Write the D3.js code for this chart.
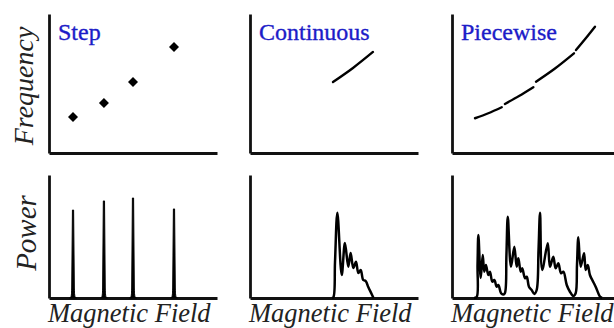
<!DOCTYPE html>
<html>
<head>
<meta charset="utf-8">
<script src="https://cdn.jsdelivr.net/npm/d3@7"></script>
<style>
  html, body { margin: 0; padding: 0; background: #fff; }
  svg { display: block; }
</style>
</head>
<body>
<svg id="chart" width="614" height="328"></svg>
<script>
// ---------------- DATA (field / frequency / power in arbitrary 0–100 units) ----------------
const titles = ["Step", "Continuous", "Piecewise"];
const yLabels = ["Frequency", "Power"];
const xLabel = "Magnetic Field";

// Step: discrete frequencies
const stepField = [14.3, 32.7, 50.0, 74.4];
const stepFreq  = [25.9, 36.0, 51.0, 76.3];
const stepPower = [71.5, 78.9, 81.3, 72.4];

// Continuous: frequency sweep
const contFreq = [[49.4, 51.1], [61.3, 61.2], [73.2, 72.7]];

// Piecewise: four sweep segments
const pieceFreq = [
  [[13.7, 25.0], [21.6, 28.6], [29.6, 32.9]],
  [[31.5, 35.3], [39.9, 41.0], [48.4, 47.3]],
  [[50.0, 51.3], [61.3, 60.8], [72.6, 71.7]],
  [[73.8, 74.1], [79.5, 82.4], [85.1, 90.9]]
];

// Continuous power spectrum
const contPower = [
  [48.8, 0], [49.7, 0.8], [50.6, 29.3], [52.0, 69.3], [54.6, 18.7], [56.5, 44.7],
  [58.5, 25.4], [59.9, 36.6], [61.5, 24.4], [63.1, 29.5], [64.5, 20.3], [65.9, 22.8],
  [67.4, 14.6], [68.9, 13.8], [70.4, 8.9], [72.4, 3.3], [73.5, 0]
];

// Piecewise power spectrum
const piecePower = [
  [13.1, 0], [14.7, 0.8], [15.2, 26.8], [15.7, 51.2], [17.1, 16.3], [18.3, 35.0],
  [19.2, 21.4], [20.2, 26.8], [21.6, 18.7], [22.6, 21.4], [24.0, 13.3], [25.2, 14.6],
  [26.6, 9.2], [27.6, 10.6], [29.2, 3.8], [30.5, 2.8],
  [31.5, 4.1], [32.4, 35.0], [33.2, 66.1], [35.1, 25.4], [37.1, 41.7], [38.5, 25.4],
  [39.5, 32.3], [40.9, 21.4], [41.8, 24.1], [43.5, 16.0], [44.5, 17.3], [45.8, 9.2],
  [47.4, 6.5], [49.0, 3.3],
  [50.4, 6.5], [51.5, 39.0], [52.4, 69.3], [53.7, 22.8], [57.0, 44.5], [58.3, 25.4],
  [60.3, 33.6], [61.7, 24.1], [63.3, 28.2], [64.9, 20.1], [66.3, 21.4], [68.3, 10.6],
  [70.2, 5.1], [72.2, 1.6],
  [73.6, 3.8], [74.4, 26.8], [75.2, 49.4], [76.6, 25.4], [78.6, 36.3], [79.6, 22.8],
  [80.8, 26.8], [82.1, 18.7], [83.5, 14.6], [85.5, 9.2], [88.1, 1.1], [89.3, 0]
];

// ---------------- LAYOUT ----------------
const svg = d3.select("#chart");
const colX = [49, 250, 452];
const plotW = 168;
const rows = [{top: 14, bottom: 153}, {top: 175, bottom: 298}];
const serif = "'Liberation Serif', 'Times New Roman', serif";
const ink = "#000";

function makeScales(col, row) {
  const x = d3.scaleLinear().domain([0, 100]).range([colX[col], colX[col] + plotW]);
  const y = d3.scaleLinear().domain([0, 100]).range([rows[row].bottom, rows[row].top]);
  return {x, y};
}

function drawAxes(s, row) {
  const gx = svg.append("g").attr("transform", `translate(0,${rows[row].bottom})`)
    .call(d3.axisBottom(s.x).tickValues([]).tickSizeOuter(0));
  const gy = svg.append("g").attr("transform", `translate(${s.x.range()[0]},0)`)
    .call(d3.axisLeft(s.y).tickValues([]).tickSizeOuter(0));
  [gx, gy].forEach(g => g.select(".domain").attr("stroke", "#111").attr("stroke-width", 2.8));
}

const line = (s, curve) => d3.line().x(d => s.x(d[0])).y(d => s.y(d[1])).curve(curve || d3.curveLinear);

for (let c = 0; c < 3; c++) {
  for (let r = 0; r < 2; r++) {
    const s = makeScales(c, r);
    drawAxes(s, r);

    if (r === 0) {
      svg.append("text")
        .attr("x", s.x.range()[0] + 9)
        .attr("y", 40)
        .attr("font-family", serif)
        .attr("font-size", 24)
        .attr("fill", "#1c1cc8")
        .attr("stroke", "#1c1cc8")
        .attr("stroke-width", 0.35)
        .text(titles[c]);
    } else {
      svg.append("text")
        .attr("x", s.x.range()[0] - 1)
        .attr("y", 322)
        .attr("font-family", serif)
        .attr("font-style", "italic")
        .attr("font-size", 26.5)
        .attr("fill", "#222")
        .text(xLabel);
    }

    if (c === 0 && r === 0) {
      svg.selectAll(null).data(stepField).enter().append("path")
        .attr("d", d3.symbol().type(d3.symbolDiamond2).size(64))
        .attr("transform", (d, i) => `translate(${s.x(d)},${s.y(stepFreq[i])})`)
        .attr("fill", ink);
    }
    if (c === 0 && r === 1) {
      svg.selectAll(null).data(stepField).enter().append("path")
        .attr("d", (d, i) => {
          const xs = s.x(d), yt = s.y(stepPower[i]), yb = s.y(0);
          return `M${xs - 3.4},${yb} C${xs - 1.5},${yb} ${xs - 1.5},${yb - 4} ${xs - 1.3},${yb - 10}` +
                 ` L${xs - 0.6},${yt} L${xs + 0.6},${yt} L${xs + 1.3},${yb - 10}` +
                 ` C${xs + 1.5},${yb - 4} ${xs + 1.5},${yb} ${xs + 3.4},${yb} Z`;
        })
        .attr("fill", ink).attr("stroke", ink).attr("stroke-width", 1)
        .attr("stroke-linejoin", "round");
    }
    if (c === 1 && r === 0) {
      svg.append("path").datum(contFreq)
        .attr("d", line(s, d3.curveCatmullRom))
        .attr("fill", "none").attr("stroke", ink).attr("stroke-width", 2.4)
        .attr("stroke-linecap", "round");
    }
    if (c === 1 && r === 1) {
      svg.append("path").datum(contPower)
        .attr("d", line(s, d3.curveCatmullRom.alpha(0.5)))
        .attr("fill", "none").attr("stroke", ink).attr("stroke-width", 2.5)
        .attr("stroke-linejoin", "round");
    }
    if (c === 2 && r === 0) {
      svg.selectAll(null).data(pieceFreq).enter().append("path")
        .attr("d", d => line(s, d3.curveCatmullRom)(d))
        .attr("fill", "none").attr("stroke", ink).attr("stroke-width", 2.4)
        .attr("stroke-linecap", "round");
    }
    if (c === 2 && r === 1) {
      svg.append("path").datum(piecePower)
        .attr("d", line(s, d3.curveCatmullRom.alpha(0.5)))
        .attr("fill", "none").attr("stroke", ink).attr("stroke-width", 2.5)
        .attr("stroke-linejoin", "round");
    }
  }
}
yLabels.forEach((t, r) => {
  const cy = r === 0 ? 86 : 233;
  const bx = r === 0 ? 33 : 36;
  svg.append("text")
    .attr("transform", `translate(${bx},${cy}) rotate(-90)`)
    .attr("text-anchor", "middle")
    .attr("font-family", serif)
    .attr("font-style", "italic")
    .attr("font-size", r === 0 ? 28 : 29)
    .attr("fill", "#222")
    .text(t);
});
</script>
</body>
</html>
